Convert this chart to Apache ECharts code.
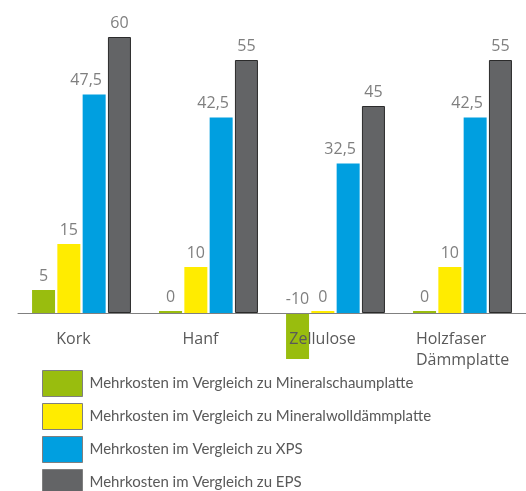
<!DOCTYPE html>
<html>
<head>
<meta charset="utf-8">
<script src="https://cdn.jsdelivr.net/npm/echarts@6/dist/echarts.min.js"></script>
<style>
    * { margin: 0; padding: 0; }
    body { background: #ffffff; }
    #main { width: 526px; height: 491px; }
</style>
</head>
<body>
<div id="main"></div>
<script>
    var categories = ['Kork', 'Hanf', 'Zellulose', 'Holzfaser\nDämmplatte'];
    var seriesNames = [
        'Mehrkosten im Vergleich zu Mineralschaumplatte',
        'Mehrkosten im Vergleich zu Mineralwolldämmplatte',
        'Mehrkosten im Vergleich zu XPS',
        'Mehrkosten im Vergleich zu EPS'
    ];
    var mineralschaum = [5, 0, -10, 0];
    var mineralwolle = [15, 10, 0, 10];
    var xps = [47.5, 42.5, 32.5, 42.5];
    var eps = [60, 55, 45, 55];

    var colors = ['#99bd0e', '#ffec00', '#009fe0', '#636466'];
    // kleine Verschiebung der Achsenbeschriftung wie im Original
    var labelShift = [16, 16, 26, 0];

    var myChart = echarts.init(document.getElementById('main'));

    function valueLabel(dx) {
        return {
            show: true,
            position: 'top',
            distance: 6,
            offset: [dx, 0],
            color: '#7f7f7f',
            fontSize: 16,
            fontFamily: 'Open Sans',
            formatter: function (p) {
                return String(p.value).replace('.', ',');
            }
        };
    }

    function makeSeries(i, data, extra) {
        var s = {
            name: seriesNames[i],
            type: 'bar',
            data: data,
            barWidth: 23,
            barGap: '10%',
            clip: false,
            itemStyle: { color: colors[i] },
            label: valueLabel(0)
        };
        for (var k in extra) s[k] = extra[k];
        return s;
    }

    var option = {
        animation: false,
        color: colors,
        grid: {
            left: 18,
            right: 0,
            top: 37,
            bottom: 178,
            outerBoundsMode: 'none'
        },
        legend: {
            orient: 'vertical',
            left: 42,
            top: 370,
            height: 140,
            padding: 0,
            itemWidth: 40,
            itemHeight: 26,
            itemGap: 6,
            icon: 'rect',
            selectedMode: false,
            itemStyle: { borderColor: '#7f7f7f', borderWidth: 1 },
            textStyle: {
                fontFamily: 'Lato',
                fontSize: 15,
                color: '#595959',
                padding: [0, 0, 0, 2]
            },
            data: seriesNames
        },
        xAxis: {
            type: 'category',
            z: 10,
            data: categories.map(function (c, i) {
                return { value: c, textStyle: { padding: [0, labelShift[i], 0, 0] } };
            }),
            axisLine: { lineStyle: { color: '#808080', width: 1 } },
            axisTick: { show: false },
            axisLabel: {
                interval: 0,
                margin: 16,
                formatter: function (v) {
                    return v.split('\n').map(function (line) {
                        return '{l|' + line + '}';
                    }).join('\n');
                },
                rich: {
                    l: {
                        align: 'left',
                        fontFamily: 'Open Sans',
                        fontSize: 16,
                        lineHeight: 21,
                        color: '#595959'
                    }
                }
            }
        },
        yAxis: {
            type: 'value',
            min: 0,
            max: 60,
            show: false
        },
        series: [
            makeSeries(0, mineralschaum, { barMinHeight: 2 }),
            makeSeries(1, mineralwolle, { barMinHeight: 2 }),
            makeSeries(2, xps, { label: valueLabel(-8) }),
            makeSeries(3, eps, { itemStyle: { color: colors[3], borderColor: '#2b2b2b', borderWidth: 1 } })
        ]
    };

    myChart.setOption(option);
</script>
</body>
</html>
